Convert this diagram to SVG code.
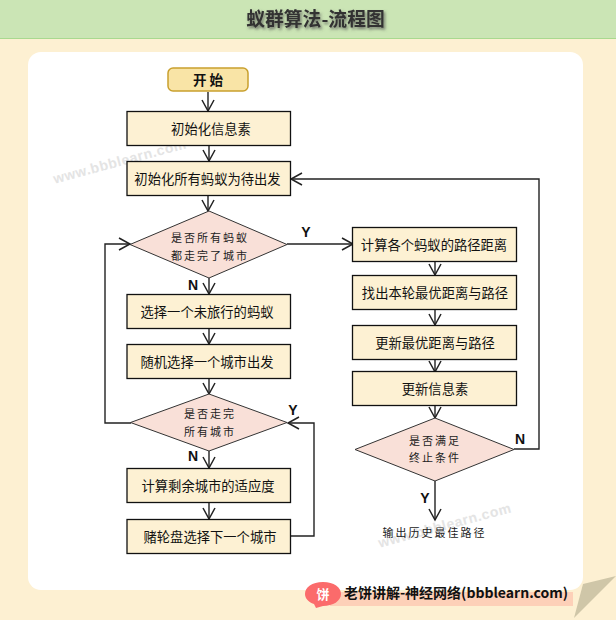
<svg xmlns="http://www.w3.org/2000/svg" width="616" height="620" viewBox="0 0 616 620">
<defs>
<marker id="arr" markerUnits="userSpaceOnUse" markerWidth="16" markerHeight="16" refX="13" refY="8" orient="auto"><path d="M2 2 L13 8 L2 14" fill="none" stroke="#222" stroke-width="1.5"/></marker>
<filter id="sh" x="-10%" y="-30%" width="120%" height="170%"><feDropShadow dx="1.5" dy="2" stdDeviation="1.5" flood-color="#555" flood-opacity="0.8"/></filter>
</defs>
<style>
text{font-family:"Noto Sans CJK SC","Liberation Sans",sans-serif;text-anchor:middle;fill:#111}
.box{fill:#fdf1d3;stroke:#111;stroke-width:1.3}
.dia{fill:#f9e0d8;stroke:#333;stroke-width:1}
.t{font-size:13.3px}
.d{font-size:11px;letter-spacing:2px;fill:#222}
.lab{font-family:"Liberation Sans",sans-serif;font-weight:700;font-size:14px}
.wm{font-family:"Liberation Sans",sans-serif;font-weight:700;font-size:14px;fill:#e4e4e4;letter-spacing:.6px}
#connectors path{fill:none;stroke:#222;stroke-width:1.4;marker-end:url(#arr)}
</style>
<rect width="616" height="620" fill="#fdf0d2"/>
<rect width="616" height="38" fill="#cbe5b5"/>
<rect y="38" width="616" height="1" fill="#a9d98f"/>
<rect x="28" y="52" width="555" height="538" rx="13" fill="#fff"/>
<text x="315.500" y="26" font-size="18.800" font-weight="700" style="fill:#333" filter="url(#sh)">蚁群算法-流程图</text>
<text class="wm" x="120" y="166" transform="rotate(-15 120 162)">www.bbblearn.com</text>
<text class="wm" x="445" y="530" transform="rotate(-15 445 526)">www.bbblearn.com</text>
<g id="connectors">
<path d="M208 92V111"/>
<path d="M209 145V161"/>
<path d="M208 195V211"/>
<path d="M209 278V294"/>
<path d="M209 328V344"/>
<path d="M209 378V394"/>
<path d="M209 451V468"/>
<path d="M209 502V519"/>
<path d="M287 244H353"/>
<path d="M435 261V275"/>
<path d="M435 309V325"/>
<path d="M435 359V372"/>
<path d="M435 405V418"/>
<path d="M435 481V520"/>
<path d="M514 449H539V179H291"/>
<path d="M131 423H105V244H130"/>
<path d="M291 536H314V423H288"/>
</g>
<g id="start"><rect x="168" y="68" width="80" height="23" rx="5" fill="#f9e4a6" stroke="#c9a02e" stroke-width="1.5"/><text x="208" y="84.500" font-size="13.500" font-weight="700">开 始</text></g>
<g id="n1"><rect class="box" x="127" y="111.500" width="163.500" height="34"/><text class="t" x="211" y="133.500">初始化信息素</text></g>
<g id="n2"><rect class="box" x="127" y="161.500" width="163.500" height="34"/><text class="t" x="207.500" y="183.500">初始化所有蚂蚁为待出发</text></g>
<g id="d1"><polygon class="dia" points="209,211 287,244.500 209,278 130,244.500"/><text class="d" x="210" y="242">是否所有蚂蚁</text><text class="d" x="210" y="260">都走完了城市</text></g>
<g id="n3"><rect class="box" x="127" y="294.500" width="163.500" height="34"/><text class="t" x="207" y="316.500">选择一个未旅行的蚂蚁</text></g>
<g id="n4"><rect class="box" x="127" y="344.500" width="163.500" height="34"/><text class="t" x="207" y="366.500">随机选择一个城市出发</text></g>
<g id="d2"><polygon class="dia" points="209,394 287,422.500 209,451 130.500,422.500"/><text class="d" x="210" y="418">是否走完</text><text class="d" x="210" y="436">所有城市</text></g>
<g id="n5"><rect class="box" x="127" y="468.500" width="163.500" height="34"/><text class="t" x="208" y="490.500">计算剩余城市的适应度</text></g>
<g id="n6"><rect class="box" x="127" y="519.500" width="163.500" height="34"/><text class="t" x="210" y="542">赌轮盘选择下一个城市</text></g>
<g id="r1"><rect class="box" x="352.500" y="227.500" width="164" height="34"/><text class="t" x="434" y="250">计算各个蚂蚁的路径距离</text></g>
<g id="r2"><rect class="box" x="352.500" y="275.500" width="164" height="34"/><text class="t" x="435" y="298">找出本轮最优距离与路径</text></g>
<g id="r3"><rect class="box" x="352.500" y="325.500" width="164" height="34"/><text class="t" x="435" y="348">更新最优距离与路径</text></g>
<g id="r4"><rect class="box" x="352.500" y="371.500" width="164" height="34"/><text class="t" x="435" y="394">更新信息素</text></g>
<g id="d3"><polygon class="dia" points="435,418 514,449.500 435,481 355,449.500"/><text class="d" x="435" y="445">是否满足</text><text class="d" x="435" y="462">终止条件</text></g>
<g id="end"><text class="d" x="434.500" y="537">输出历史最佳路径</text></g>
<g id="labels">
<text class="lab" x="306" y="237">Y</text>
<text class="lab" x="193" y="290">N</text>
<text class="lab" x="293" y="415">Y</text>
<text class="lab" x="193" y="461">N</text>
<text class="lab" x="425" y="503">Y</text>
<text class="lab" x="520" y="444">N</text>
</g>
<g id="footer">
<polygon points="583,584 616,576 574,618" fill="#cfc6a8"/>
<rect x="330" y="592" width="243" height="14" fill="#fdd0b8"/>
<path d="M323 582 C334 582 341 587 341 594 C341 601 333 606 323 606 L316 608 L314 604 C308 602 305 598 305 594 C305 587 312 582 323 582Z" fill="#fb6b6b"/>
<text x="323" y="599" font-size="13px" font-weight="700" style="fill:#fff">饼</text>
<text x="456" y="598" font-size="14" font-weight="700">老饼讲解-神经网络(bbblearn.com)</text>
</g>
</svg>
